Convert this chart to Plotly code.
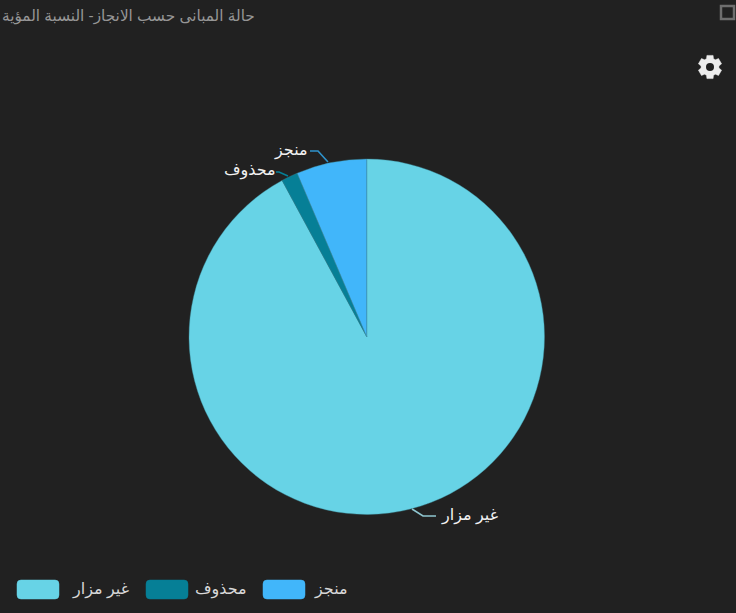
import math
import plotly.graph_objects as go

W, H = 736, 613
title_text = "حالة المبانى حسب الانجاز- النسبة المؤية"
labels = ["غير مزار", "محذوف", "منجز"]
values = [92.1, 1.5, 6.4]
colors = ["#67D3E6", "#067F96", "#41B6FA"]

BG = "#212121"
FONT = "Liberation Sans, Arial, Noto Sans, DejaVu Sans, sans-serif"


def px(x):
    return x / W


def py(y):
    return 1 - y / H


shapes = []
annotations = []

# leader lines and their labels
leaders = [
    ([(412, 509), (423, 516), (436, 516)], "#8FC6D0", 500, "right", 515),
    ([(288, 176), (279, 172), (276, 172)], "#067F96", 278, "right", 170),
    ([(328, 162), (318, 151), (310, 151)], "#2F93CC", 310, "right", 150),
]
for (pts, col, tx, anchor, ty), lab in zip(leaders, labels):
    d = "M" + " L".join(f"{px(a):.5f},{py(b):.5f}" for a, b in pts)
    shapes.append(dict(type="path", path=d, xref="paper", yref="paper",
                       line=dict(color=col, width=1.6)))
    annotations.append(dict(text=lab, x=px(tx), y=py(ty), xref="paper", yref="paper",
                            xanchor=anchor, yanchor="middle", showarrow=False,
                            font=dict(family=FONT, size=16, color="#F2F2F2")))

# legend
swatch_left = [17, 146, 263]
text_right = [131, 249, 350]
for lab, col, sl, tr in zip(labels, colors, swatch_left, text_right):
    x0, x1, y0, y1, r = sl, sl + 42, 580, 599, 4
    d = (f"M{px(x0 + r)},{py(y0)} L{px(x1 - r)},{py(y0)} Q{px(x1)},{py(y0)} {px(x1)},{py(y0 + r)} "
         f"L{px(x1)},{py(y1 - r)} Q{px(x1)},{py(y1)} {px(x1 - r)},{py(y1)} "
         f"L{px(x0 + r)},{py(y1)} Q{px(x0)},{py(y1)} {px(x0)},{py(y1 - r)} "
         f"L{px(x0)},{py(y0 + r)} Q{px(x0)},{py(y0)} {px(x0 + r)},{py(y0)} Z")
    shapes.append(dict(type="path", path=d, xref="paper", yref="paper",
                       fillcolor=col, line=dict(color=col, width=0.5)))
    annotations.append(dict(text=lab, x=px(tr), y=py(589), xref="paper", yref="paper",
                            xanchor="right", yanchor="middle", showarrow=False,
                            font=dict(family=FONT, size=16, color="#D8D8D8")))

# title
annotations.append(dict(text=title_text, x=px(257), y=py(16), xref="paper", yref="paper",
                        xanchor="right", yanchor="middle", showarrow=False,
                        font=dict(family=FONT, size=15.3, color="#969696")))

# window icon
shapes.append(dict(type="rect", x0=px(721), x1=px(734), y0=py(19), y1=py(6),
                   xref="paper", yref="paper", line=dict(color="#6E6E6E", width=2.5)))

# gear icon
cx, cy, pts = 710, 67, []
teeth = 6
for i in range(teeth):
    a = 2 * math.pi * i / teeth
    for da, rad in [(-0.40, 9.0), (-0.26, 12.0), (0.26, 12.0), (0.40, 9.0)]:
        t = a + da
        pts.append((cx + rad * math.sin(t), cy - rad * math.cos(t)))
d = "M" + " L".join(f"{px(a):.5f},{py(b):.5f}" for a, b in pts) + " Z"
shapes.append(dict(type="path", path=d, xref="paper", yref="paper",
                   fillcolor="#EDEDED", line=dict(color="#EDEDED", width=0.5)))
shapes.append(dict(type="circle", x0=px(cx - 4), x1=px(cx + 4), y0=py(cy + 4), y1=py(cy - 4),
                   xref="paper", yref="paper", fillcolor=BG, line=dict(width=0)))

fig = go.Figure(go.Pie(
    labels=labels, values=values, sort=False, direction="clockwise", rotation=0,
    marker=dict(colors=colors, line=dict(color="#3E8FA0", width=0.4)),
    textinfo="none", hoverinfo="label+percent", showlegend=False,
    domain=dict(x=[px(189), px(544.5)], y=[py(514.5), py(159)]),
))
fig.update_layout(width=W, height=H, margin=dict(l=0, r=0, t=0, b=0),
                  paper_bgcolor=BG, plot_bgcolor=BG, showlegend=False,
                  shapes=shapes, annotations=annotations)
fig.write_html("out.html", config=dict(displayModeBar=False),
               post_script="document.body.style.margin='0';document.body.style.background='#212121';document.documentElement.style.overflow='hidden';")
